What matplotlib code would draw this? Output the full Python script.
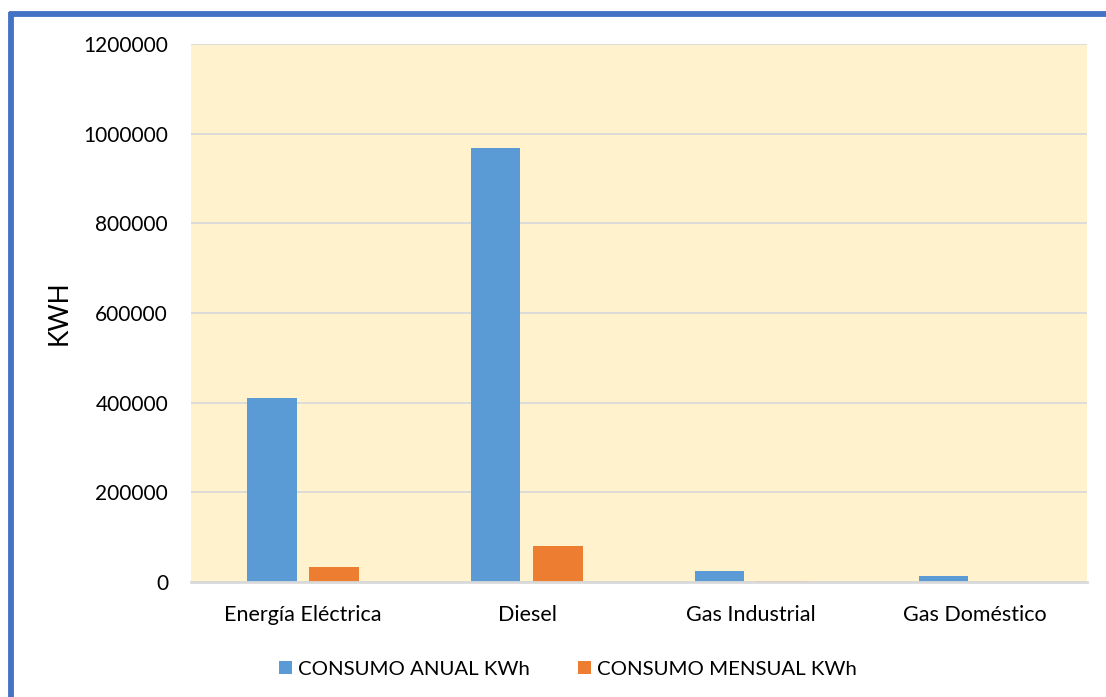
import matplotlib
matplotlib.use("Agg")
import matplotlib.pyplot as plt
import numpy as np
from matplotlib.lines import Line2D

plt.rcParams['font.family'] = ['Lato', 'DejaVu Sans']

categories = ["Energía Eléctrica", "Diesel", "Gas Industrial", "Gas Doméstico"]
anual = [410000, 968000, 24000, 13000]
mensual = [34000, 80700, 2000, 1100]
series_names = ["CONSUMO ANUAL KWh", "CONSUMO MENSUAL KWh"]
yticks = [0, 200000, 400000, 600000, 800000, 1000000, 1200000]

blue = "#5B9BD5"
orange = "#ED7D31"

fig = plt.figure(figsize=(11.06, 6.97), dpi=100)
ax = fig.add_axes([0.1727, 0.165, 0.8101, 0.7719])
ax.set_facecolor("#FFF2CC")

x = np.arange(len(categories))
w = 0.223
gap = 0.058
ax.bar(x - (w + gap) / 2, anual, w, color=blue, label=series_names[0], zorder=3)
ax.bar(x + (w + gap) / 2, mensual, w, color=orange, label=series_names[1], zorder=3)

ax.set_xlim(-0.5, len(categories) - 0.5)
ax.set_ylim(0, 1200000)
ax.set_yticks(yticks)
ax.set_yticklabels([str(v) for v in yticks], fontsize=15)
ax.set_xticks(x)
ax.set_xticklabels(categories, fontsize=15.5)
ax.tick_params(length=0)
ax.tick_params(axis='y', pad=16.5)
ax.tick_params(axis='x', pad=16.5)
ax.yaxis.grid(True, color="#D9D9D9", linewidth=1.3, zorder=0)
ax.set_axisbelow(True)
for s in ["top", "right", "left"]:
    ax.spines[s].set_visible(False)
ax.spines["bottom"].set_color("#D9D9D9")
ax.spines["bottom"].set_linewidth(2)
ax.spines["bottom"].set_zorder(4)

ax.set_ylabel("KWH", fontsize=19, labelpad=8)

fig.legend(loc="center", bbox_to_anchor=(0.5136, 0.040), ncol=2, frameon=False,
           fontsize=14.7, handlelength=0.64, handleheight=0.64, handletextpad=0.3,
           columnspacing=2.35, borderpad=0)

# blue frame along the top and left edges
fig.add_artist(Line2D([0.0083, 1.0], [0.9792, 0.9792], transform=fig.transFigure,
                      color="#4472C4", linewidth=4.2, solid_capstyle="butt"))
fig.add_artist(Line2D([0.0095, 0.0095], [0.0, 0.9832], transform=fig.transFigure,
                      color="#4472C4", linewidth=4.2, solid_capstyle="butt"))

fig.savefig("out.png", dpi=100)
